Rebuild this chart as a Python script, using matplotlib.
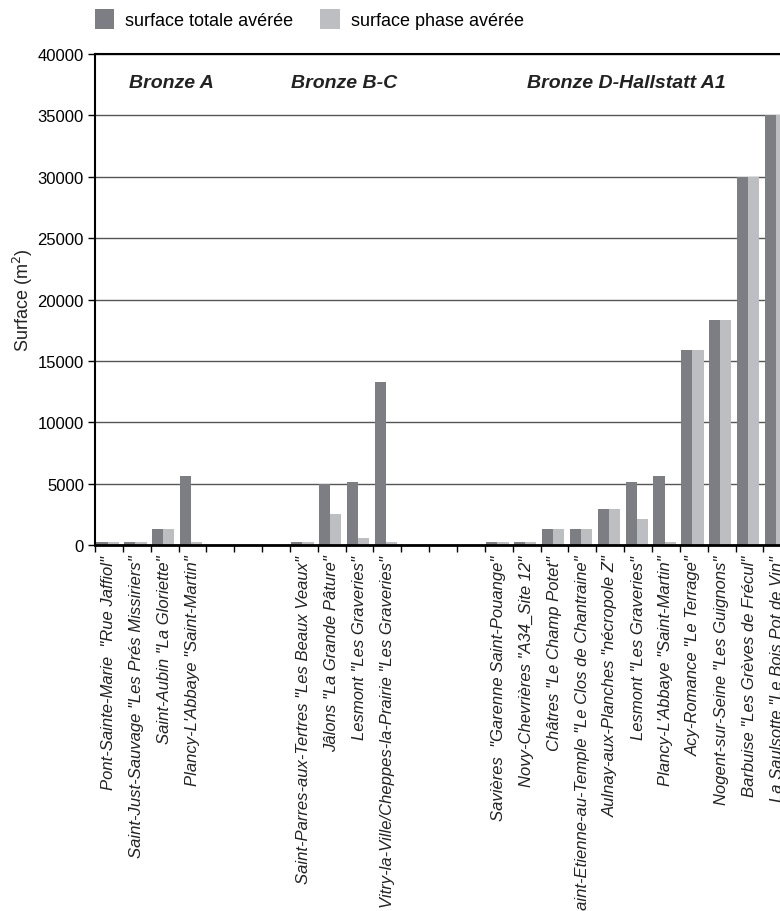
"""
Surfaces des sites par phase chronologique (Bronze A -> Hallstatt A1).
Barres groupees : surface totale averee / surface phase averee.
"""

import numpy as np
import matplotlib
matplotlib.use('Agg')
import matplotlib.pyplot as plt

plt.rcParams['font.family'] = ['Liberation Sans', 'DejaVu Sans']

# Data (empty strings = spacer slots between periods)
sites = [
    'Pont-Sainte-Marie  "Rue Jaffiol"',
    'Saint-Just-Sauvage "Les Prés Missiriers"',
    'Saint-Aubin "La Gloriette"',
    'Plancy-L\'Abbaye "Saint-Martin"',
    '', '', '',
    'Saint-Parres-aux-Tertres "Les Beaux Veaux"',
    'Jâlons "La Grande Pâture"',
    'Lesmont "Les Graveries"',
    'Vitry-la-Ville/Cheppes-la-Prairie "Les Graveries"',
    '', '', '',
    'Savières  "Garenne Saint-Pouange"',
    'Novy-Chevrières "A34_Site 12"',
    'Châtres "Le Champ Potet"',
    'Saint-Etienne-au-Temple "Le Clos de Chantraine"',
    'Aulnay-aux-Planches "nécropole Z"',
    'Lesmont "Les Graveries"',
    'Plancy-L\'Abbaye "Saint-Martin"',
    'Acy-Romance "Le Terrage"',
    'Nogent-sur-Seine "Les Guignons"',
    'Barbuise "Les Grèves de Frécul"',
    'La Saulsotte "Le Bois Pot de Vin"',
]

surface_totale = [250, 250, 1300, 5600,
                  0, 0, 0,
                  250, 5000, 5100, 13300,
                  0, 0, 0,
                  250, 250, 1300, 1300, 2900, 5100, 5600, 15900, 18300, 30000, 35000]

surface_phase = [250, 250, 1300, 250,
                 0, 0, 0,
                 250, 2500, 550, 250,
                 0, 0, 0,
                 250, 250, 1300, 1300, 2900, 2100, 250, 15900, 18300, 30000, 35000]

periods = ['Bronze A', 'Bronze B-C', 'Bronze D-Hallstatt A1']
period_x = [2.26, 8.44, 18.57]

legend_labels = ['surface totale avérée', 'surface phase avérée']

DARK = '#7d7e83'
LIGHT = '#bdbec2'


def plot_surfaces(save_path='out.png'):
    fig = plt.figure(figsize=(7.8, 9.12), dpi=100)
    # axes run slightly past the right edge of the figure (last bar is cut)
    ax = fig.add_axes([0.1218, 0.4013, 0.8926, 0.5384])

    x = np.arange(len(sites))
    w = 0.4
    ax.bar(x - 0.25, surface_totale, width=w, color=DARK, label=legend_labels[0], zorder=2)
    ax.bar(x + 0.15, surface_phase, width=w, color=LIGHT, label=legend_labels[1], zorder=2)

    ax.set_xlim(-0.5, len(sites) - 0.5)
    ax.set_ylim(0, 40000)
    ax.set_yticks(np.arange(0, 40001, 5000))
    ax.tick_params(axis='y', labelsize=12, length=5, width=1, direction='out', pad=3)
    ax.yaxis.grid(True, color='#555555', linewidth=1.0, zorder=0)
    ax.set_axisbelow(True)

    # tick marks on slot boundaries, labels at slot centres
    ax.set_xticks(np.arange(-0.5, len(sites), 1.0))
    ax.set_xticklabels([])
    ax.tick_params(axis='x', which='major', length=5, width=1, direction='out')
    ax.set_xticks(x, minor=True)
    ax.set_xticklabels(sites, minor=True, rotation=90, fontsize=12, style='italic',
                       va='top', ha='center', color='#222222')
    ax.tick_params(axis='x', which='minor', length=0, pad=7)

    for side in ['left', 'top']:
        ax.spines[side].set_linewidth(1.5)
        ax.spines[side].set_color('black')
    ax.spines['bottom'].set_linewidth(2)
    ax.spines['right'].set_visible(False)

    ax.set_ylabel('Surface (m$^2$)', fontsize=13, labelpad=6, color='#222222')
    ax.yaxis.set_label_coords(-0.086, 0.5)

    for name, px in zip(periods, period_x):
        ax.text(px, 37700, name, ha='center', va='center', fontsize=14,
                fontweight='bold', style='italic', color='#222222')

    fig.legend(loc='upper left', bbox_to_anchor=(0.112, 0.997), ncol=2, frameon=False,
               fontsize=13, handlelength=1.1, handleheight=1.3, handletextpad=0.6,
               columnspacing=1.5, borderaxespad=0)

    plt.savefig(save_path, dpi=100)
    plt.close()


if __name__ == "__main__":
    plot_surfaces()
